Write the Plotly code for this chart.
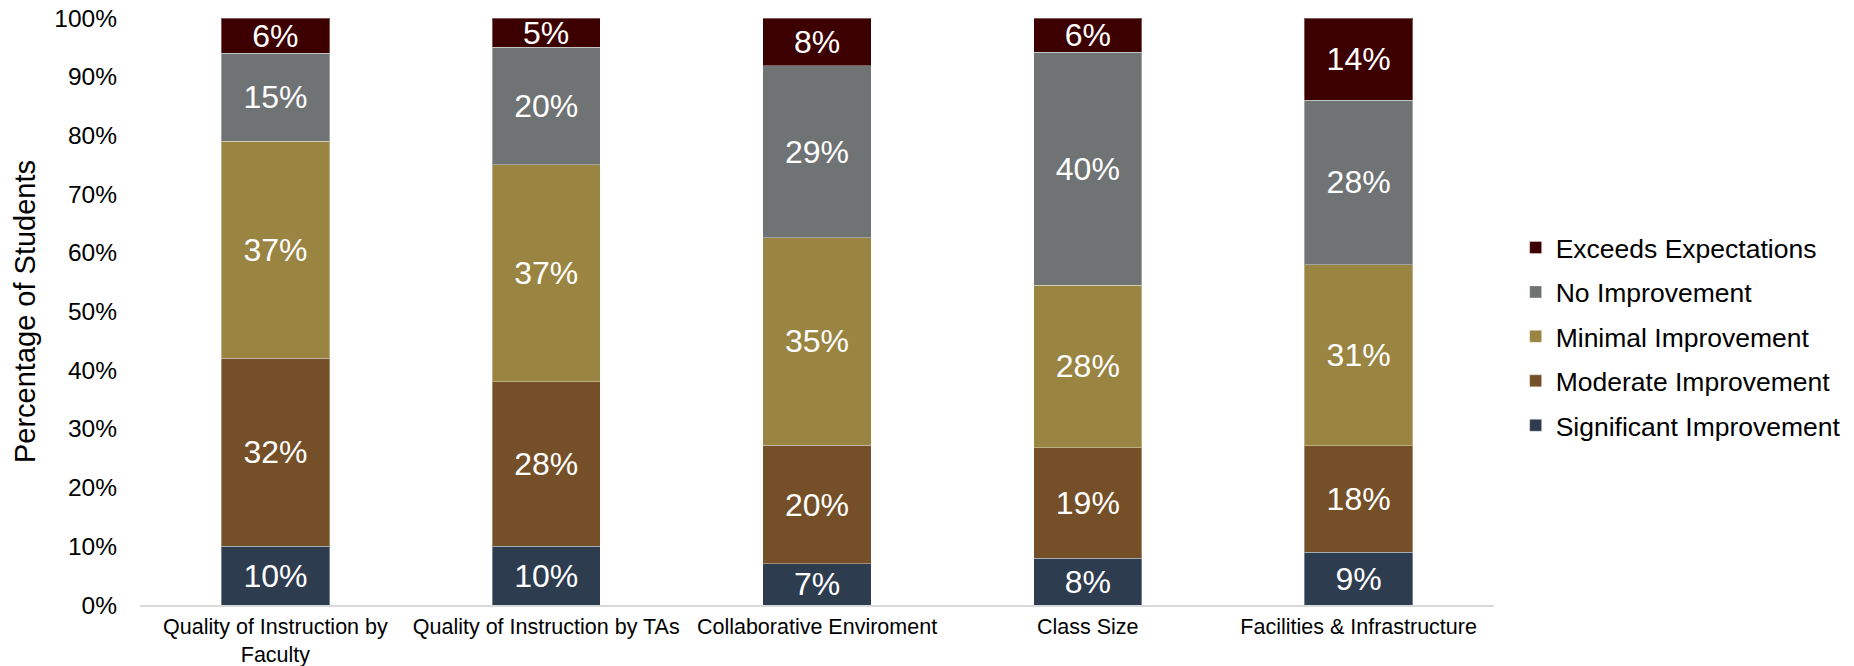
import plotly.graph_objects as go

categories = ['Quality of Instruction by<br>Faculty', 'Quality of Instruction by TAs',
              'Collaborative Enviroment', 'Class Size', 'Facilities & Infrastructure']

significant = [10, 10, 7.0, 8.0, 9.0]
moderate = [32, 28, 20.2, 18.8, 18.1]
minimal = [37, 37, 35.4, 27.7, 30.9]
no_improvement = [15, 20, 29.3, 39.7, 28.0]
exceeds = [6, 5, 8.1, 5.8, 14.0]

y_ticks = list(range(0, 101, 10))
y_tick_text = [f'{v}%' for v in y_ticks]

series = [
    ('Significant Improvement', significant, '#2E3C50'),
    ('Moderate Improvement', moderate, '#754F28'),
    ('Minimal Improvement', minimal, '#998442'),
    ('No Improvement', no_improvement, '#6F7374'),
    ('Exceeds Expectations', exceeds, '#3D0000'),
]

font_family = 'Liberation Sans, Arial, sans-serif'

fig = go.Figure()

# legend shows the top segment first
for rank, (name, values, color) in zip(range(len(series), 0, -1), series):
    fig.add_trace(go.Bar(
        x=categories,
        y=values,
        name=name,
        legendgroup=name,
        legendrank=rank,
        marker=dict(color=color, line=dict(color='rgba(255,255,255,0.35)', width=1)),
        texttemplate='%{y:.0f}%',
        textposition='inside',
        insidetextanchor='middle',
        textangle=0,
        constraintext='none',
        textfont=dict(color='white', size=32, family=font_family),
        hovertemplate='%{x}: %{y:.0f}%<extra>' + name + '</extra>'
    ))

fig.update_layout(
    barmode='stack',
    bargap=0.6,
    width=1854,
    height=666,
    paper_bgcolor='white',
    plot_bgcolor='white',
    font=dict(family=font_family, color='#000000'),
    margin=dict(l=140, r=360, t=18, b=61, autoexpand=False),
    legend=dict(
        x=1.016, y=0.457, xanchor='left', yanchor='middle',
        traceorder='grouped',
        tracegroupgap=7,
        font=dict(size=26.5, family=font_family),
    ),
    showlegend=True,
)

fig.update_xaxes(
    showline=True,
    linecolor='#D9D9D9',
    linewidth=2,
    tickfont=dict(size=21.5, family=font_family),
    ticklabelstandoff=1,
    showgrid=False,
    automargin=False,
)

fig.update_yaxes(
    range=[0, 100],
    tickmode='array',
    tickvals=y_ticks,
    ticktext=y_tick_text,
    showgrid=False,
    zeroline=False,
    showline=False,
    tickfont=dict(size=24.5, family=font_family),
    ticklabelstandoff=22,
    ticklabeloverflow='allow',
    automargin=False,
    title=dict(text='Percentage of Students', font=dict(size=29, family=font_family), standoff=10),
)

# drop the default 8px page margin so the figure fills the window
fig.write_html('out.html', config={'displayModeBar': False},
               post_script="document.body.style.margin='0';")
